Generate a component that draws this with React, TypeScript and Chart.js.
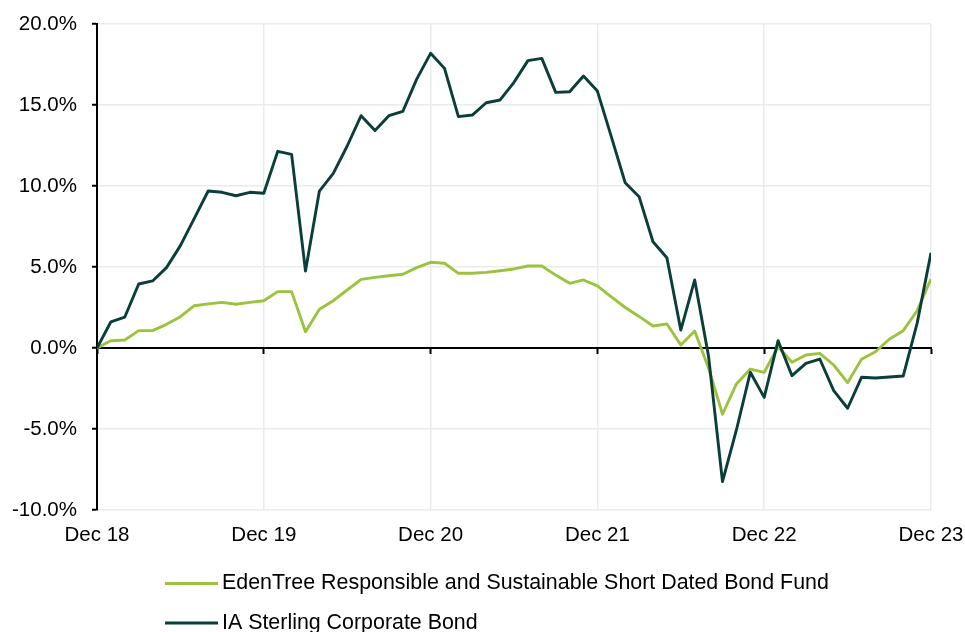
import { useEffect, useRef } from 'react';
import { Chart, registerables } from 'chart.js';

Chart.register(...registerables);

// ---- Data ----
const xTickLabels = ['Dec 18', 'Dec 19', 'Dec 20', 'Dec 21', 'Dec 22', 'Dec 23'];
const xTickMonths = [0, 12, 24, 36, 48, 60];
const yTickValues = [-10, -5, 0, 5, 10, 15, 20];

const seriesNames = [
  'EdenTree Responsible and Sustainable Short Dated Bond Fund',
  'IA Sterling Corporate Bond',
];

// Monthly cumulative performance (%), Dec 18 .. Dec 23
const edenTree = [
  0, 0.45, 0.49, 1.07, 1.07, 1.46, 1.93, 2.61, 2.72, 2.82,
  2.7, 2.82, 2.92, 3.48, 3.48, 1.0, 2.39, 2.92, 3.58, 4.24,
  4.36, 4.46, 4.55, 4.96, 5.29, 5.23, 4.61, 4.61, 4.67, 4.77,
  4.88, 5.06, 5.06, 4.5, 3.99, 4.2, 3.83, 3.15, 2.5, 1.95,
  1.36, 1.48, 0.19, 1.05, -1.25, -4.09, -2.22, -1.3, -1.5, 0.08,
  -0.88, -0.43, -0.33, -1.05, -2.14, -0.7, -0.23, 0.54, 1.07, 2.3, 4.26,
];

const iaSterling = [
  0, 1.62, 1.91, 3.95, 4.14, 4.96, 6.32, 8.0, 9.69, 9.61,
  9.4, 9.61, 9.55, 12.14, 11.95, 4.75, 9.69, 10.78, 12.47, 14.34,
  13.42, 14.34, 14.6, 16.6, 18.19, 17.26, 14.28, 14.38, 15.14, 15.31,
  16.4, 17.74, 17.88, 15.78, 15.82, 16.79, 15.86, 13.05, 10.2, 9.34,
  6.56, 5.57, 1.11, 4.2, -0.53, -8.25, -5.06, -1.5, -3.05, 0.45,
  -1.71, -0.95, -0.68, -2.63, -3.72, -1.81, -1.85, -1.79, -1.73, 1.52, 5.88,
];

const GREEN = '#9CC33D';
const DARK = '#093E39';
const GRID = '#EBEBEB';
const FONT = '"Liberation Sans", Arial, sans-serif';

const stackedLegend = {
  id: 'stackedLegend',
  afterDraw(chart: any) {
    const ctx = chart.ctx;
    ctx.save();
    chart.data.datasets.forEach((ds: any, i: number) => {
      const y = 583.5 + i * 39.5;
      ctx.strokeStyle = ds.borderColor;
      ctx.lineWidth = 3;
      ctx.beginPath();
      ctx.moveTo(165, y);
      ctx.lineTo(218, y);
      ctx.stroke();
      ctx.fillStyle = '#000';
      ctx.font = `21.4px ${FONT}`;
      ctx.textAlign = 'left';
      ctx.textBaseline = 'middle';
      ctx.fillText(ds.label, 222, y);
    });
    ctx.restore();
  },
};

const noScalePadding = (s: any) => {
  s.paddingLeft = 0;
  s.paddingRight = 0;
  s.paddingTop = 0;
  s.paddingBottom = 0;
};

export default function App() {
  const canvasRef = useRef<HTMLCanvasElement | null>(null);

  useEffect(() => {
    document.body.style.margin = '0';
    const canvas = canvasRef.current;
    if (!canvas) return;

    const toPoints = (arr: number[]) => arr.map((v, i) => ({ x: i, y: v }));
    const setXTicks = (s: any) => {
      s.ticks = xTickMonths.map((v) => ({ value: v }));
    };

    const chart = new Chart(canvas, {
      type: 'line',
      data: {
        datasets: [
          {
            label: seriesNames[0],
            data: toPoints(edenTree),
            borderColor: GREEN,
            backgroundColor: GREEN,
            borderWidth: 2.9,
            pointRadius: 0,
            tension: 0,
            borderJoinStyle: 'round',
            order: 1,
          },
          {
            label: seriesNames[1],
            data: toPoints(iaSterling),
            borderColor: DARK,
            backgroundColor: DARK,
            borderWidth: 2.9,
            pointRadius: 0,
            tension: 0,
            borderJoinStyle: 'round',
            order: 0,
          },
        ],
      },
      options: {
        animation: false,
        responsive: true,
        maintainAspectRatio: false,
        layout: { padding: { left: 0, right: 34, top: 24, bottom: 82 } },
        plugins: {
          legend: { display: false },
          tooltip: { enabled: false },
        },
        scales: {
          x: {
            type: 'linear',
            position: 'bottom',
            min: xTickMonths[0],
            max: xTickMonths[xTickMonths.length - 1],
            afterBuildTicks: setXTicks,
            afterFit: (s: any) => {
              s.height = 40;
              noScalePadding(s);
            },
            grid: {
              color: (c: any) => (c.tick && c.tick.value === 0 ? 'rgba(0,0,0,0)' : GRID),
              lineWidth: 1.5,
              drawTicks: false,
            },
            border: { display: false },
            ticks: {
              padding: 13,
              color: '#000',
              font: { family: FONT, size: 20.5 },
              maxRotation: 0,
              autoSkip: false,
              callback: (v: any) => {
                const idx = xTickMonths.indexOf(Number(v));
                return idx >= 0 ? xTickLabels[idx] : '';
              },
            },
          },
          x2: {
            type: 'linear',
            position: { y: 0 },
            min: xTickMonths[0],
            max: xTickMonths[xTickMonths.length - 1],
            afterBuildTicks: setXTicks,
            grid: {
              drawOnChartArea: false,
              drawTicks: true,
              tickLength: 5,
              tickColor: '#000',
              tickWidth: 2,
            },
            border: { display: true, color: '#000', width: 2 },
            ticks: { display: false },
          },
          y: {
            type: 'linear',
            min: yTickValues[0],
            max: yTickValues[yTickValues.length - 1],
            afterBuildTicks: (s: any) => {
              s.ticks = yTickValues.map((v) => ({ value: v }));
            },
            afterFit: (s: any) => {
              s.width = 97;
              noScalePadding(s);
            },
            grid: {
              color: (c: any) => (c.tick && c.tick.value === 0 ? 'rgba(0,0,0,0)' : GRID),
              lineWidth: 1.5,
              drawTicks: true,
              tickLength: 5,
              tickColor: '#000',
              tickWidth: 2,
            },
            border: { display: true, color: '#000', width: 2 },
            ticks: {
              padding: 15,
              color: '#000',
              font: { family: FONT, size: 20.5 },
              callback: (v: any) => `${Number(v).toFixed(1)}%`,
            },
          },
        },
      },
      plugins: [stackedLegend],
    });

    return () => chart.destroy();
  }, []);

  return (
    <div style={{ width: 965, height: 632, position: 'relative' }}>
      <canvas ref={canvasRef} />
    </div>
  );
}
